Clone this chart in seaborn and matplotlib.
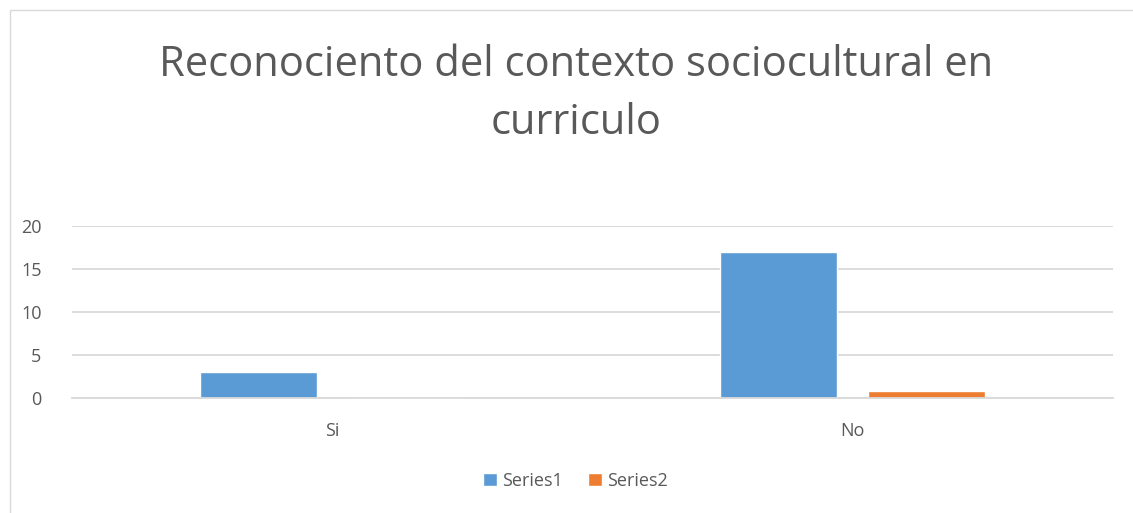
import pandas as pd
import seaborn as sns
import matplotlib.pyplot as plt
from matplotlib.patches import Rectangle

categorias = ['Si', 'No']
series1 = [3, 17]
series2 = [0.15, 0.85]
nombres_series = ['Series1', 'Series2']

df = pd.DataFrame({
    'categoria': categorias * 2,
    'serie': [nombres_series[0]] * 2 + [nombres_series[1]] * 2,
    'valor': series1 + series2,
})

sns.set_style('white')
plt.rcParams['font.family'] = ['Open Sans', 'DejaVu Sans']

gris = '#595959'
fig = plt.figure(figsize=(11.33, 5.13), dpi=100)
ax = fig.add_axes([72 / 1133, 1 - 398 / 513, (1113 - 72) / 1133, (398 - 226) / 513])

sns.barplot(data=df, x='categoria', y='valor', hue='serie',
            palette=['#5b9bd5', '#ed7d31'], width=0.568, gap=0.21,
            ax=ax, errorbar=None, saturation=1)

ax.set_ylim(0, 20)
ax.set_xlim(-0.5, 1.5)
ax.set_yticks([0, 5, 10, 15, 20])
ax.yaxis.grid(True, color='#d9d9d9', linewidth=1.3)
ax.set_axisbelow(True)
for lado in ['top', 'right', 'left']:
    ax.spines[lado].set_visible(False)
ax.spines['bottom'].set_color('#d9d9d9')
ax.spines['bottom'].set_linewidth(1.3)
ax.tick_params(axis='both', length=0, labelsize=13, labelcolor=gris)
ax.tick_params(axis='x', pad=17)
ax.tick_params(axis='y', pad=22)
ax.set_xlabel('')
ax.set_ylabel('')

ax.legend(loc='center', bbox_to_anchor=(0.508, 1 - 481 / 513), bbox_transform=fig.transFigure,
          ncol=2, frameon=False, fontsize=13, handlelength=0.75, handleheight=0.75,
          columnspacing=1.4, handletextpad=0.3, labelcolor=gris)

fig.text(0.508, 1 - 94 / 513, 'Reconociento del contexto sociocultural en\ncurriculo',
         ha='center', va='center', fontsize=30, color=gris, linespacing=1.5)

fig.patches.append(Rectangle((10 / 1133, -0.1), 1.2, 1 - 10 / 513 + 0.1,
                             transform=fig.transFigure, fill=False,
                             edgecolor='#d9d9d9', linewidth=1))

fig.savefig('out.png', dpi=100)
